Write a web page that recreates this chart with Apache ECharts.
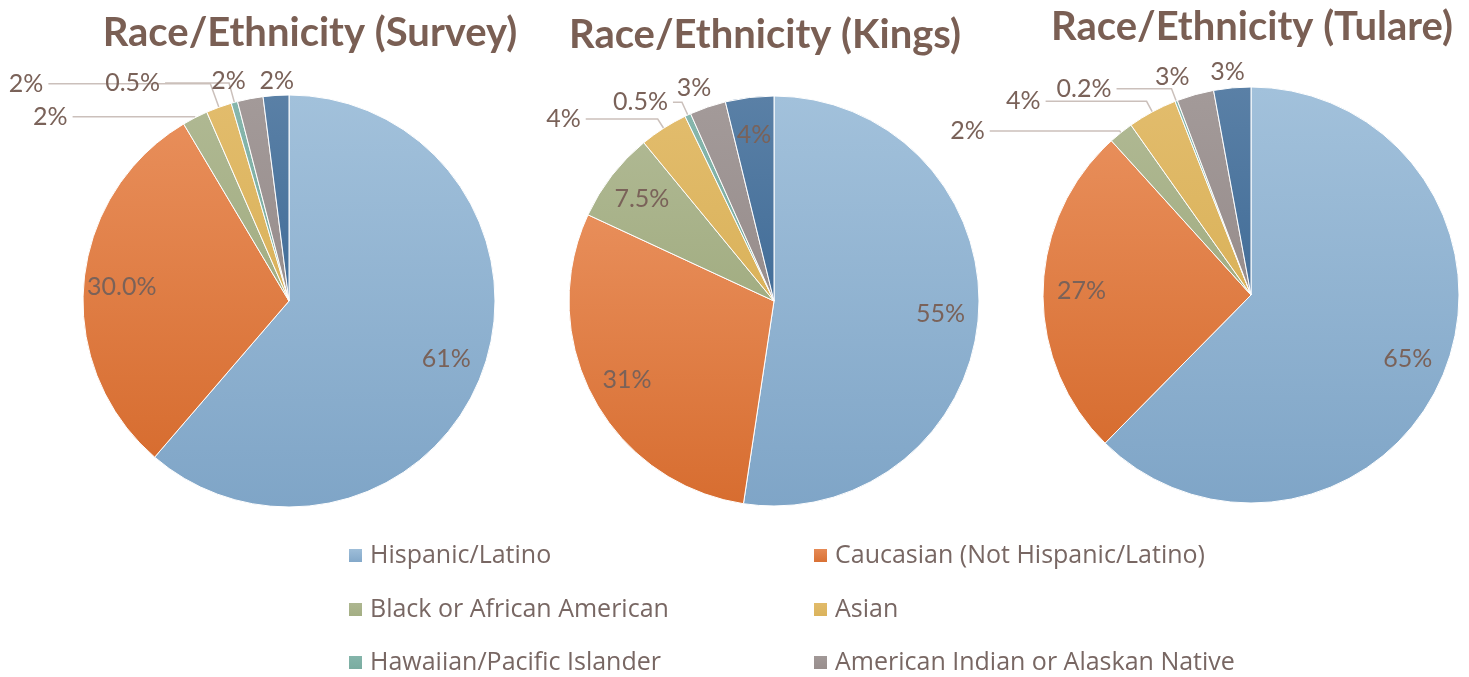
<!DOCTYPE html>
<html>
<head>
<meta charset="utf-8">
<script src="https://cdn.jsdelivr.net/npm/echarts@6/dist/echarts.min.js"></script>
<style>
html,body{margin:0;padding:0;background:#fff;}
#chart{width:1469px;height:677px;}
</style>
</head>
<body>
<div id="chart"></div>
<script>
// ---- data ----
const categories = [
  'Hispanic/Latino',
  'Caucasian (Not Hispanic/Latino)',
  'Black or African American',
  'Asian',
  'Hawaiian/Pacific Islander',
  'American Indian or Alaskan Native',
  'Other'
];
const titles = ['Race/Ethnicity (Survey)', 'Race/Ethnicity (Kings)', 'Race/Ethnicity (Tulare)'];
const surveyValues = [61, 30.0, 2, 2, 0.5, 2, 2];
const kingsValues  = [55, 31, 7.5, 4, 0.5, 3, 4];
const tulareValues = [65, 27, 2, 4, 0.2, 3, 3];
const surveyLabels = ['61%', '30.0%', '2%', '2%', '0.5%', '2%', '2%'];
const kingsLabels  = ['55%', '31%', '7.5%', '4%', '0.5%', '3%', '4%'];
const tulareLabels = ['65%', '27%', '2%', '4%', '0.2%', '3%', '3%'];
const legendNames = categories.slice(0, 6);

// ---- styles ----
const sliceColors = [
  ['#a2c1db', '#7fa5c7'],
  ['#e88e5a', '#d76d30'],
  ['#afb892', '#a2ad82'],
  ['#e2bc6c', '#dab25a'],
  ['#86b6ac', '#78ab9f'],
  ['#a39a99', '#978d8c'],
  ['#5a80a6', '#426d98']
];
const titleColor = '#7a5f54';
const labelColor = '#7a6259';
const legendColor = '#786763';
const lineColor = '#cbc0bb';

const pies = [
  { values: surveyValues, labels: surveyLabels, center: [289, 301], r: 206, title: [310, 10],
    inside: [0, 1],
    // [length, length2, showLine] for outside labels
    leaders: {2: [1, 122, true], 3: [25, 162, true], 4: [20, 64, true], 5: [18, -4, false], 6: [15, -24, false]} },
  { values: kingsValues, labels: kingsLabels, center: [774, 301], r: 205, title: [765, 12],
    inside: [0, 1, 2, 6],
    leaders: {3: [11, 72, true], 4: [14, 9, true], 5: [20, -15, false]} },
  { values: tulareValues, labels: tulareLabels, center: [1251, 295], r: 208, title: [1252, 4],
    inside: [0, 1],
    leaders: {2: [2, 130, true], 3: [12, 101, true], 4: [13, 55, true], 5: [18, -4, false], 6: [16, -19, false]} }
];

function grad(i) {
  return new echarts.graphic.LinearGradient(0, 0, 0, 1, [
    { offset: 0, color: sliceColors[i][0] },
    { offset: 1, color: sliceColors[i][1] }
  ]);
}

const series = [];
const title = [];
pies.forEach((p, pi) => {
  title.push({
    text: titles[pi], left: p.title[0], top: p.title[1], textAlign: 'center', padding: 0,
    textStyle: { fontFamily: 'Lato', fontWeight: 'bold', fontSize: 40, color: titleColor, lineHeight: 46 }
  });
  // main pie with outside labels for small slices
  series.push({
    type: 'pie', center: p.center, radius: [0, p.r], startAngle: 90, clockwise: true,
    avoidLabelOverlap: false, animation: false,
    itemStyle: { borderColor: '#ffffff', borderWidth: 1 },
    emphasis: { disabled: true },
    label: { fontFamily: 'Lato', fontSize: 25, color: labelColor, distanceToLabelLine: 5 },
    labelLine: { lineStyle: { color: lineColor, width: 1.5 }, minTurnAngle: 0, maxSurfaceAngle: 180 },
    data: categories.map((name, i) => {
      const isInside = p.inside.indexOf(i) >= 0;
      const ld = p.leaders[i];
      const item = { name: name, value: p.values[i], itemStyle: { color: grad(i) } };
      if (isInside || !ld) {
        item.label = { show: false };
        item.labelLine = { show: false };
      } else {
        item.label = { show: true, position: 'outside', formatter: p.labels[i] };
        item.labelLine = { show: ld[2], length: ld[0], length2: ld[1] };
      }
      return item;
    })
  });
  // transparent ring used only to place the inside labels at ~0.8 radius
  series.push({
    type: 'pie', center: p.center, radius: [p.r * 0.6, p.r], startAngle: 90, clockwise: true,
    silent: true, animation: false, avoidLabelOverlap: false,
    itemStyle: { color: 'rgba(0,0,0,0)', borderWidth: 0 },
    emphasis: { disabled: true },
    labelLine: { show: false },
    label: { fontFamily: 'Lato', fontSize: 25, color: labelColor, position: 'inside' },
    data: categories.map((name, i) => ({
      name: name, value: p.values[i],
      label: p.inside.indexOf(i) >= 0 ? { show: true, formatter: p.labels[i] } : { show: false }
    }))
  });
});

const legendPos = [[347, 543], [812, 543], [347, 597], [812, 597], [347, 650], [812, 650]];
const legend = legendNames.map((n, i) => ({
  data: [n], left: legendPos[i][0], top: legendPos[i][1], orient: 'horizontal', padding: 0,
  icon: 'rect', itemWidth: 15, itemHeight: 15, selectedMode: false,
  textStyle: { fontFamily: 'Open Sans', fontSize: 25, color: legendColor, padding: [0, 0, 0, 2] }
}));

const chart = echarts.init(document.getElementById('chart'), null, { renderer: 'canvas' });
chart.setOption({ backgroundColor: '#ffffff', animation: false, title: title, legend: legend, series: series });
</script>
</body>
</html>
